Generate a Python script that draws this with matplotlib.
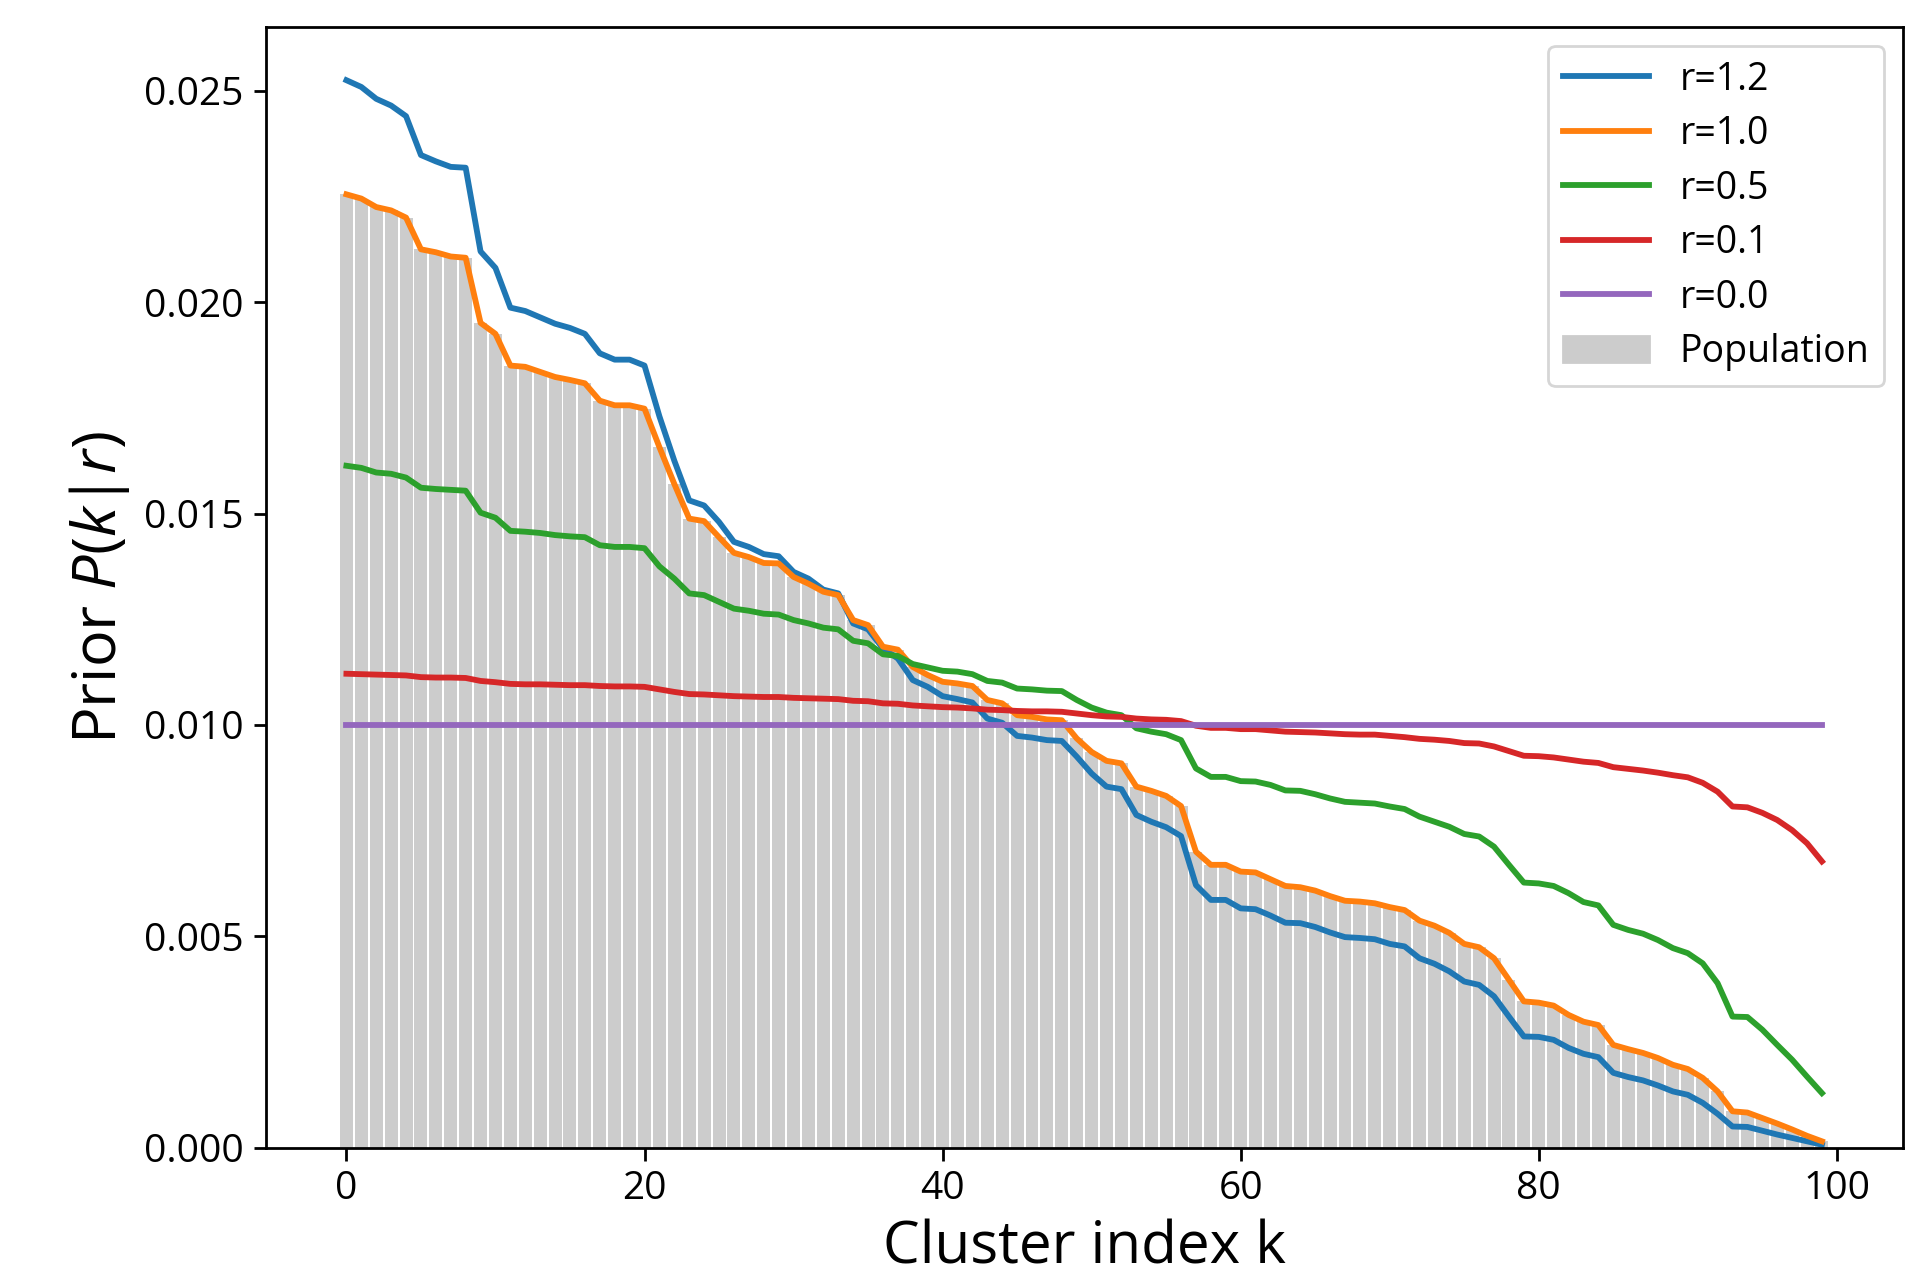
import matplotlib
matplotlib.use("Agg")
import matplotlib.pyplot as plt
import numpy as np
from matplotlib.patches import Patch

plt.rcParams['font.family'] = ['Open Sans', 'DejaVu Sans']
plt.rcParams['mathtext.fontset'] = 'custom'
plt.rcParams['mathtext.rm'] = 'Open Sans'
plt.rcParams['mathtext.it'] = 'Open Sans:italic'

# share of population per cluster (sorted), also the r=1.0 prior
population = [
    0.02255, 0.02245, 0.02225, 0.02217, 0.02200, 0.02125, 0.02118, 0.02108, 0.02105, 0.01951,
    0.01925, 0.01850, 0.01847, 0.01835, 0.01823, 0.01816, 0.01808, 0.01767, 0.01756, 0.01756,
    0.01748, 0.01657, 0.01570, 0.01488, 0.01482, 0.01444, 0.01407, 0.01397, 0.01383, 0.01382,
    0.01350, 0.01334, 0.01315, 0.01307, 0.01248, 0.01236, 0.01185, 0.01178, 0.01137, 0.01118,
    0.01102, 0.01098, 0.01092, 0.01059, 0.01051, 0.01023, 0.01019, 0.01013, 0.01011, 0.00968,
    0.00936, 0.00915, 0.00909, 0.00854, 0.00844, 0.00832, 0.00808, 0.00700, 0.00669, 0.00669,
    0.00653, 0.00651, 0.00635, 0.00619, 0.00616, 0.00608, 0.00595, 0.00584, 0.00582, 0.00578,
    0.00569, 0.00562, 0.00537, 0.00525, 0.00508, 0.00482, 0.00474, 0.00448, 0.00397, 0.00346,
    0.00343, 0.00336, 0.00314, 0.00298, 0.00290, 0.00243, 0.00233, 0.00224, 0.00212, 0.00196,
    0.00186, 0.00165, 0.00133, 0.00086, 0.00083, 0.00070, 0.00057, 0.00043, 0.00028, 0.00015,
]

prior_r12 = [
    0.02525, 0.02509, 0.02481, 0.02465, 0.02440, 0.02348, 0.02333, 0.02320, 0.02318, 0.02120,
    0.02081, 0.01987, 0.01979, 0.01964, 0.01949, 0.01939, 0.01925, 0.01879, 0.01864, 0.01864,
    0.01850, 0.01730, 0.01625, 0.01531, 0.01519, 0.01480, 0.01433, 0.01421, 0.01404, 0.01399,
    0.01362, 0.01346, 0.01320, 0.01311, 0.01240, 0.01226, 0.01181, 0.01157, 0.01106, 0.01090,
    0.01068, 0.01061, 0.01053, 0.01015, 0.01005, 0.00974, 0.00970, 0.00964, 0.00962, 0.00925,
    0.00885, 0.00854, 0.00848, 0.00787, 0.00771, 0.00758, 0.00737, 0.00621, 0.00586, 0.00586,
    0.00566, 0.00564, 0.00549, 0.00532, 0.00531, 0.00522, 0.00509, 0.00498, 0.00496, 0.00493,
    0.00482, 0.00476, 0.00448, 0.00435, 0.00417, 0.00393, 0.00385, 0.00358, 0.00310, 0.00263,
    0.00262, 0.00255, 0.00236, 0.00222, 0.00214, 0.00177, 0.00167, 0.00159, 0.00147, 0.00133,
    0.00125, 0.00106, 0.00080, 0.00050, 0.00049, 0.00040, 0.00031, 0.00023, 0.00015, 0.00007,
]

prior_r10 = population

prior_r05 = [
    0.01613, 0.01608, 0.01597, 0.01594, 0.01585, 0.01561, 0.01558, 0.01556, 0.01554, 0.01502,
    0.01490, 0.01459, 0.01457, 0.01454, 0.01449, 0.01446, 0.01444, 0.01425, 0.01421, 0.01421,
    0.01418, 0.01375, 0.01346, 0.01311, 0.01307, 0.01291, 0.01275, 0.01270, 0.01263, 0.01261,
    0.01248, 0.01240, 0.01230, 0.01226, 0.01199, 0.01193, 0.01167, 0.01163, 0.01144, 0.01136,
    0.01128, 0.01126, 0.01120, 0.01104, 0.01100, 0.01086, 0.01084, 0.01081, 0.01080, 0.01059,
    0.01041, 0.01029, 0.01023, 0.00992, 0.00984, 0.00978, 0.00964, 0.00897, 0.00877, 0.00877,
    0.00867, 0.00866, 0.00858, 0.00845, 0.00844, 0.00836, 0.00826, 0.00818, 0.00816, 0.00814,
    0.00807, 0.00801, 0.00783, 0.00771, 0.00759, 0.00742, 0.00736, 0.00712, 0.00669, 0.00627,
    0.00625, 0.00619, 0.00602, 0.00581, 0.00573, 0.00527, 0.00515, 0.00506, 0.00491, 0.00472,
    0.00460, 0.00436, 0.00389, 0.00310, 0.00309, 0.00279, 0.00243, 0.00208, 0.00168, 0.00129,
]

prior_r01 = [
    0.01121, 0.01120, 0.01119, 0.01118, 0.01117, 0.01113, 0.01112, 0.01112, 0.01111, 0.01104,
    0.01101, 0.01097, 0.01096, 0.01096, 0.01095, 0.01094, 0.01094, 0.01092, 0.01091, 0.01091,
    0.01090, 0.01084, 0.01078, 0.01073, 0.01072, 0.01070, 0.01068, 0.01067, 0.01066, 0.01066,
    0.01064, 0.01063, 0.01062, 0.01061, 0.01057, 0.01056, 0.01051, 0.01050, 0.01046, 0.01044,
    0.01042, 0.01041, 0.01039, 0.01036, 0.01035, 0.01033, 0.01032, 0.01032, 0.01031, 0.01027,
    0.01023, 0.01020, 0.01019, 0.01015, 0.01013, 0.01012, 0.01009, 0.00998, 0.00993, 0.00993,
    0.00990, 0.00990, 0.00987, 0.00984, 0.00983, 0.00982, 0.00980, 0.00978, 0.00977, 0.00977,
    0.00974, 0.00971, 0.00967, 0.00965, 0.00962, 0.00957, 0.00956, 0.00949, 0.00938, 0.00927,
    0.00926, 0.00923, 0.00918, 0.00913, 0.00910, 0.00900, 0.00896, 0.00892, 0.00887, 0.00881,
    0.00876, 0.00863, 0.00842, 0.00807, 0.00805, 0.00792, 0.00775, 0.00751, 0.00720, 0.00677,
]

prior_r00 = [0.010] * 100

series = [
    ("r=1.2", prior_r12, "tab:blue"),
    ("r=1.0", prior_r10, "tab:orange"),
    ("r=0.5", prior_r05, "tab:green"),
    ("r=0.1", prior_r01, "tab:red"),
    ("r=0.0", prior_r00, "tab:purple"),
]

k = np.arange(len(population))

fig, ax = plt.subplots(figsize=(9.62, 6.39), dpi=200)
fig.subplots_adjust(left=0.138, right=0.989, top=0.979, bottom=0.102)

ax.bar(k, population, width=0.87, color="#cccccc")

handles = []
for name, vals, col in series:
    line, = ax.plot(k, vals, color=col, linewidth=2.1, label=name)
    handles.append(line)
handles.append(Patch(color="#cccccc", label="Population"))

ax.set_xlabel("Cluster index k", fontsize=21)
ax.set_ylabel("Prior $P(k$|$r)$", fontsize=22)
ax.tick_params(labelsize=14, length=4.5, width=1.0)
for sp in ax.spines.values():
    sp.set_linewidth(1.0)
ax.legend(handles=handles, loc="upper right", fontsize=13.5, handlelength=2.3,
          labelspacing=0.44)

fig.savefig("out.png", dpi=200)
